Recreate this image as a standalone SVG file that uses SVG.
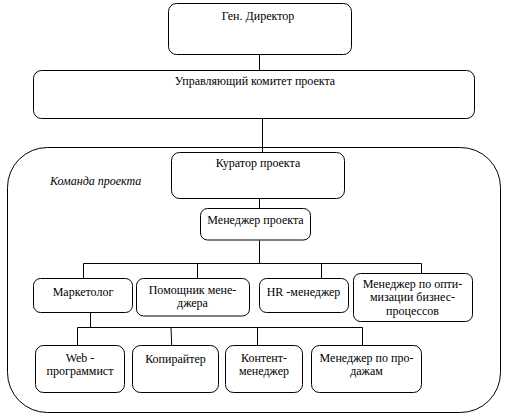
<svg xmlns="http://www.w3.org/2000/svg" width="506" height="418" viewBox="0 0 506 418">
<style>
.b{fill:#fff;stroke:#000;stroke-width:1}
.t{font-size:12px;fill:#000;text-anchor:middle}
.c{fill:none;stroke:#000;stroke-width:1}
</style>
<rect width="506" height="418" fill="#fff"/>
<g font-family="Liberation Serif, Tinos, DejaVu Serif, serif">
<g id="team">
<rect class="b" x="7.5" y="147.5" width="493" height="265" rx="40" ry="40"/>
<text class="t" x="50" y="184.5" font-style="italic" text-anchor="start" style="text-anchor:start">Команда проекта</text>
</g>
<g id="connectors">
<path class="c" d="M259.5 54.5V70.5"/>
<path class="c" d="M262.5 118.5V152.5"/>
<path class="c" d="M259.5 198.5V208.5"/>
<path class="c" d="M259.5 240.5V263.5M83.5 263.5H421.5M83.5 263.5V278.5M197.5 263.5V278.5M321.5 263.5V278.5M421.5 263.5V273.5"/>
<path class="c" d="M90.5 312.5V327.5M77.5 327.5H362.5M77.5 327.5V345.5M171 327.5L171.7 345.5M257.5 327.5V345.5M362.5 327.5V345.5"/>
</g>
<g id="gen-director">
<rect class="b" x="168.5" y="3.5" width="183" height="51" rx="8"/>
<text class="t" x="258" y="20">Ген. Директор</text>
</g>
<g id="committee">
<rect class="b" x="33.5" y="70.5" width="441" height="48" rx="8"/>
<text class="t" x="255" y="85">Управляющий комитет проекта</text>
</g>
<g id="curator">
<rect class="b" x="171.5" y="152.5" width="173" height="46" rx="8"/>
<text class="t" x="258" y="166.5">Куратор проекта</text>
</g>
<g id="pm">
<rect class="b" x="200.5" y="208.5" width="110" height="31.5" rx="7"/>
<text class="t" x="255.5" y="223.5">Менеджер проекта</text>
</g>
<g id="marketolog">
<rect class="b" x="33.5" y="278.5" width="99" height="34" rx="7"/>
<text class="t" x="83" y="296">Маркетолог</text>
</g>
<g id="assistant">
<rect class="b" x="136.5" y="278.5" width="113" height="37.5" rx="7"/>
<text class="t" x="192.5" y="293.5">Помощник мене-</text>
<text class="t" x="192.5" y="307">джера</text>
</g>
<g id="hr">
<rect class="b" x="259.5" y="278.5" width="89" height="34" rx="7"/>
<text class="t" x="303.5" y="296">HR -менеджер</text>
</g>
<g id="bpo">
<rect class="b" x="353.5" y="273.5" width="119" height="48" rx="7"/>
<text class="t" x="412.5" y="287.5">Менеджер по опти-</text>
<text class="t" x="412.5" y="301">мизации бизнес-</text>
<text class="t" x="412.5" y="314.5">процессов</text>
</g>
<g id="web">
<rect class="b" x="35.5" y="345.5" width="89" height="47" rx="8"/>
<text class="t" x="80" y="362">Web -</text>
<text class="t" x="80" y="374.5">программист</text>
</g>
<g id="copywriter">
<rect class="b" x="132.5" y="345.5" width="86" height="47" rx="8"/>
<text class="t" x="175.5" y="363">Копирайтер</text>
</g>
<g id="content">
<rect class="b" x="225.5" y="345.5" width="77" height="47" rx="8"/>
<text class="t" x="264" y="361.5">Контент-</text>
<text class="t" x="264" y="374.5">менеджер</text>
</g>
<g id="sales">
<rect class="b" x="311.5" y="345.5" width="110" height="47" rx="8"/>
<text class="t" x="366.5" y="361.5">Менеджер по про-</text>
<text class="t" x="366.5" y="374.5">дажам</text>
</g>
</g>
</svg>
